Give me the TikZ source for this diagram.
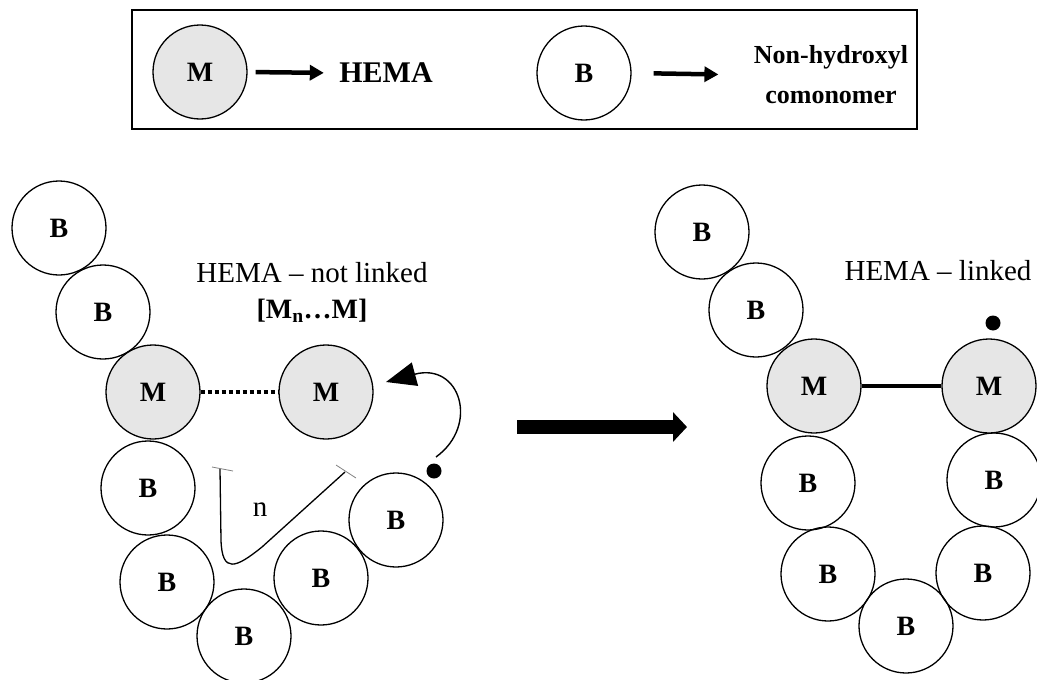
\documentclass[tikz,border=0pt]{standalone}
\usepackage{fontspec}
\setmainfont{Liberation Serif}
\usetikzlibrary{arrows.meta}
\definecolor{hemagray}{RGB}{230,230,230}

\begin{document}
\begin{tikzpicture}[x=1pt,y=-1pt,
    mono/.style={circle,draw,line width=1.3pt,minimum size=94pt,inner sep=0pt,
      font=\fontsize{28}{28}\selectfont\bfseries},
    hema/.style={mono,fill=hemagray},
    txt/.style={font=\fontsize{29}{32}\selectfont},
    legarrow/.style={line width=4.5pt,-{Triangle[length=14pt,width=15pt]}},
    radical/.style={fill,circle,inner sep=0pt,minimum size=15pt}]
  \useasboundingbox (0,0) rectangle (1037,680);

  % legend
  \draw[line width=1.5pt] (132,10) rectangle (917,129);
  \node[hema] (keym) at (200,72) {M};
  \node[txt,font=\fontsize{30}{32}\selectfont\bfseries] (keyhema) at (386,73) {HEMA};
  \node[mono] (keyb) at (584,73) {B};
  \node[align=center,font=\fontsize{26}{40}\selectfont\bfseries] (keycomo) at (831,75)
    {Non-hydroxyl\\comonomer};
  \draw[legarrow,shorten <=8pt,shorten >=12pt] (keym.east) -- (keyhema.west);
  \draw[legarrow,shorten <=22pt,shorten >=32pt] (keyb.east) -- (keycomo.west);

  % chain before linking
  \foreach \i/\x/\y in {1/59/228,2/103/312,3/148/488,4/167/582,5/244/636,6/321/578,7/396/520}
    \node[mono] (b\i) at (\x,\y) {B};
  \node[hema] (m1) at (153,392) {M};
  \node[hema] (m2) at (326,392) {M};
  \draw[line width=4pt,dash pattern=on 4pt off 3pt] (m1) -- (m2);
  \node[txt] (notlinked) at (312,273) {HEMA -- not linked};
  \node[txt,font=\fontsize{28}{30}\selectfont\bfseries] (mnm) at (312,311)
    {[M\textsubscript{n}…M]};
  \node[radical] (rad1) at (434,471) {};
  \coordinate (swing) at (436,457);
  \coordinate (swingend) at (386,382);
  \draw[line width=1.4pt,-{Triangle[length=30pt,width=24pt]}]
    (swing) .. controls (480,425) and (460,362) .. (swingend);

  % n
  \coordinate (nleft) at (220,469);
  \coordinate (nright) at (345,472);
  \draw[line width=1.3pt] (nleft) -- (221,540) .. controls (222,574) and (236,568) .. (262,547)
    -- (nright);
  \draw[gray,line width=0.8pt] (212,467) -- (233,471);
  \draw[gray,line width=0.8pt] (336,465) -- (356,478);
  \node[txt] (nlabel) at (260,510) {n};

  % arrow
  \coordinate (gostart) at (517,427);
  \coordinate (goend) at (687,427);
  \draw[line width=14pt,-{Triangle[length=14pt,width=29pt]}] (gostart) -- (goend);

  % chain after linking
  \foreach \i/\x/\y in {1/702/232,2/756/310,3/808/483,4/828/574,5/906/626,6/983/573,7/994/480}
    \node[mono] (c\i) at (\x,\y) {B};
  \node[hema] (n1) at (814,386) {M};
  \node[hema] (n2) at (989,386) {M};
  \draw[line width=4pt] (n1) -- (n2);
  \node[txt] (linked) at (938,271) {HEMA -- linked};
  \node[radical] (rad2) at (993,323) {};

\end{tikzpicture}
\end{document}
